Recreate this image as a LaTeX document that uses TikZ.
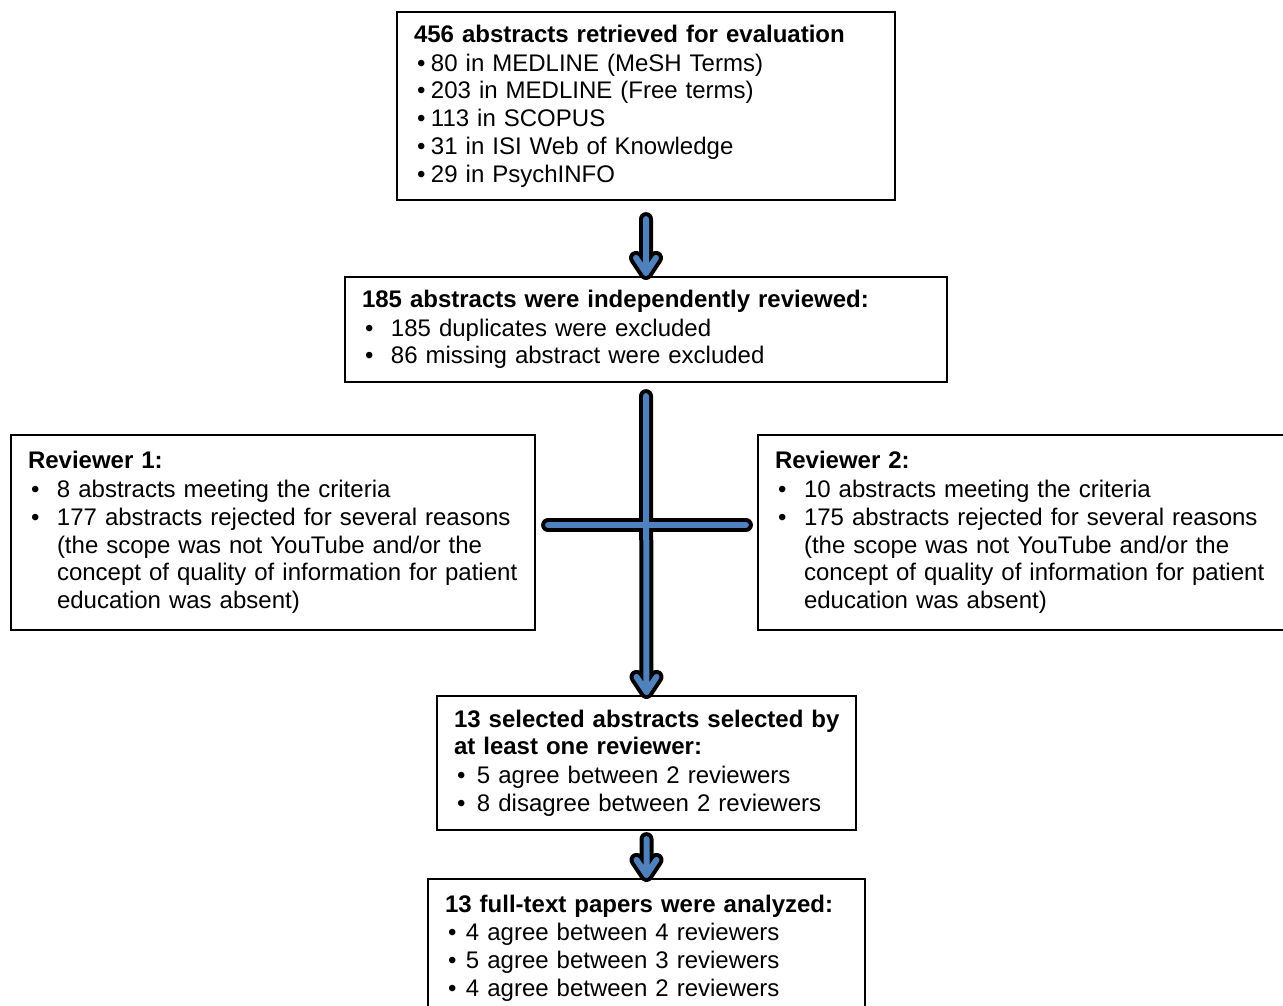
\documentclass[tikz,border=0pt]{standalone}
\usepackage{fontspec}
\setmainfont{Liberation Sans}
\usepackage{tikz}
\usetikzlibrary{positioning}
\definecolor{arrowblue}{RGB}{79,129,189}
\newcommand{\itm}[2]{\makebox[#1][l]{\hspace{3pt}\textbullet}#2}
\newcommand{\fatarrow}[2]{%
  \draw[arrowshade] #1 -- #2 -- ++(-10,-15) #2 -- ++(10,-15);
  \draw[arrowcore] #1 -- #2 -- ++(-10,-15) #2 -- ++(10,-15);}

\begin{document}
\begin{tikzpicture}[x=1pt,y=-1pt,
        every node/.style={font=\fontsize{24}{27.75}\selectfont},
        box/.style={draw, line width=2.2pt, inner sep=0pt, inner xsep=17pt,
            align=left, anchor=center},
        arrowshade/.style={black, line width=14pt, line cap=round,
            line join=round, yshift=-2pt},
        arrowcore/.style={arrowblue, line width=6pt, line cap=round,
            line join=round}]
    \clip (0,0) rectangle (1283,1005);

    \node[box, text width=464pt, minimum height=188pt] (found) at (646,106)
    {\textbf{456 abstracts retrieved for evaluation}\\[1pt]
        \itm{17pt}{80 in MEDLINE (MeSH Terms)}\\
        \itm{17pt}{203 in MEDLINE (Free terms)}\\
        \itm{17pt}{113 in SCOPUS}\\
        \itm{17pt}{31 in ISI Web of Knowledge}\\
        \itm{17pt}{29 in PsychINFO}};

    \node[box, text width=568pt, minimum height=105pt] (screen) at (646,329.5)
    {\textbf{185 abstracts were independently reviewed:}\\[1pt]
        \itm{29pt}{185 duplicates were excluded}\\
        \itm{29pt}{86 missing abstract were excluded}};

    \node[box, text width=490pt, minimum height=195pt] (revA) at (273,532.5)
    {\textbf{Reviewer 1:}\\[1pt]
        \itm{29pt}{8 abstracts meeting the criteria}\\
        \itm{29pt}{177 abstracts rejected for several reasons}\\
        \hspace*{29pt}(the scope was not YouTube and/or the\\
        \hspace*{29pt}concept of quality of information for patient\\
        \hspace*{29pt}education was absent)};

    \node[box, text width=500pt, minimum height=195pt] (revB) at (1025,532.5)
    {\textbf{Reviewer 2:}\\[1pt]
        \itm{29pt}{10 abstracts meeting the criteria}\\
        \itm{29pt}{175 abstracts rejected for several reasons}\\
        \hspace*{29pt}(the scope was not YouTube and/or the\\
        \hspace*{29pt}concept of quality of information for patient\\
        \hspace*{29pt}education was absent)};

    \node[box, text width=385pt, minimum height=134pt] (sel) at (646.5,763)
    {\mbox{\textbf{13 selected abstracts selected by}}\\
        \textbf{at least one reviewer:}\\[1pt]
        \itm{23pt}{5 agree between 2 reviewers}\\
        \itm{23pt}{8 disagree between 2 reviewers}};

    \node[box, text width=403pt, minimum height=138pt] (full) at (646.5,948)
    {\textbf{13 full-text papers were analyzed:}\\[1pt]
        \itm{21pt}{4 agree between 4 reviewers}\\
        \itm{21pt}{5 agree between 3 reviewers}\\
        \itm{21pt}{4 agree between 2 reviewers}};

    % arrows
    \fatarrow{([yshift=-18pt]found.south)}{([yshift=3pt]screen.north)}

    \draw[arrowshade] ([yshift=-13pt]screen.south) -- ([yshift=3pt]sel.north)
        -- ++(-10,-15) ([yshift=3pt]sel.north) -- ++(10,-15);
    \draw[arrowshade] ([xshift=12pt,yshift=7.5pt]revA.east)
        -- ([xshift=-11pt,yshift=7.5pt]revB.west);
    \draw[arrowcore] ([xshift=12pt,yshift=7.5pt]revA.east)
        -- ([xshift=-11pt,yshift=7.5pt]revB.west);
    \draw[arrowcore] ([yshift=-13pt]screen.south) -- ([yshift=3pt]sel.north)
        -- ++(-10,-15) ([yshift=3pt]sel.north) -- ++(10,-15);

    \fatarrow{([yshift=-8pt]sel.south)}{([yshift=3pt]full.north)}
\end{tikzpicture}
\end{document}
